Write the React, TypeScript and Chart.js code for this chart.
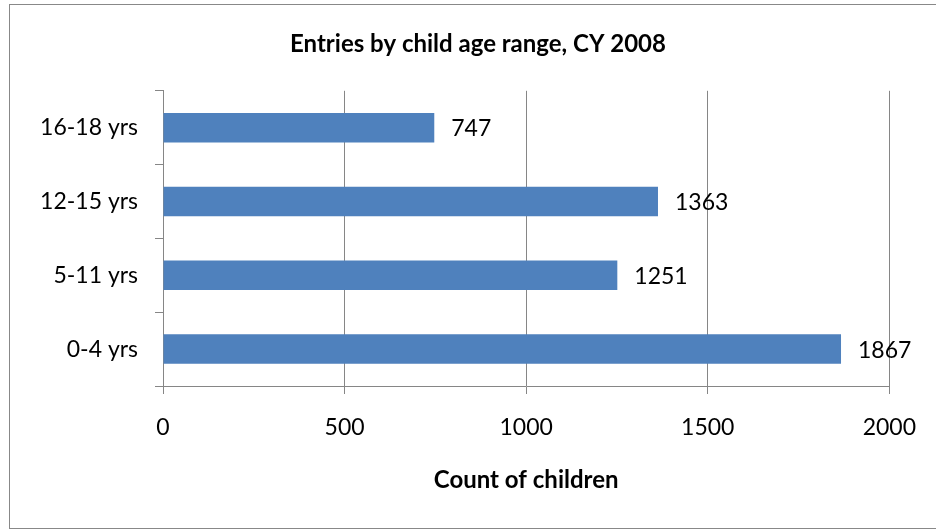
import React, { useEffect, useRef } from "react";
import { Chart, registerables } from "chart.js";

Chart.register(...registerables);

const categories = ["16-18 yrs", "12-15 yrs", "5-11 yrs", "0-4 yrs"];
const counts = [747, 1363, 1251, 1867];
const titleText = "Entries by child age range, CY 2008";
const xAxisTitle = "Count of children";
const xTicks = [0, 500, 1000, 1500, 2000];

const FONT = "Lato, 'Open Sans', sans-serif";

const frame = {
  id: "frame",
  beforeDraw(chart: any) {
    const ctx = chart.ctx;
    ctx.save();
    ctx.fillStyle = "#ffffff";
    ctx.fillRect(0, 0, chart.width, chart.height);
    ctx.strokeStyle = "#888888";
    ctx.lineWidth = 1;
    ctx.strokeRect(9.5, 4.5, chart.width + 10, chart.height - 5);
    ctx.restore();
  },
};

const valueLabels = {
  id: "valueLabels",
  afterDatasetsDraw(chart: any) {
    const ctx = chart.ctx;
    const meta = chart.getDatasetMeta(0);
    ctx.save();
    ctx.font = `23px ${FONT}`;
    ctx.fillStyle = "#000000";
    ctx.textAlign = "left";
    ctx.textBaseline = "middle";
    meta.data.forEach((bar: any, i: number) => {
      ctx.fillText(String(counts[i]), bar.x + 17, bar.y + 1);
    });
    ctx.restore();
  },
};

export default function App() {
  const ref = useRef<HTMLCanvasElement>(null);
  useEffect(() => {
    document.body.style.margin = "0";
    const chart = new Chart(ref.current!, {
      type: "bar",
      data: {
        labels: categories,
        datasets: [
          {
            data: counts,
            backgroundColor: "#4F81BD",
            borderWidth: 0,
            barPercentage: 0.4,
            categoryPercentage: 1,
          },
        ],
      },
      options: {
        indexAxis: "y",
        animation: false,
        responsive: false,
        maintainAspectRatio: false,
        layout: { padding: { left: 20, right: 0, top: 0, bottom: 0 } },
        plugins: {
          legend: { display: false },
          tooltip: { enabled: false },
          title: {
            display: true,
            text: titleText,
            color: "#000000",
            font: { family: FONT, size: 24, weight: "bold" },
            padding: { top: 30, bottom: 32 },
          },
        },
        scales: {
          x: {
            min: 0,
            max: 2000,
            afterBuildTicks: (s: any) => {
              s.ticks = xTicks.map((v) => ({ value: v }));
            },
            afterFit: (s: any) => {
              s.height = 529 - 386;
            },
            ticks: {
              color: "#000000",
              font: { family: FONT, size: 23 },
              padding: 20,
              maxRotation: 0,
              callback: (v: any) => String(v),
            },
            grid: {
              color: "#868686",
              lineWidth: 1,
              tickLength: 8,
            },
            border: { color: "#868686", width: 1 },
            title: {
              display: true,
              text: xAxisTitle,
              color: "#000000",
              font: { family: FONT, size: 24, weight: "bold" },
              padding: { top: 0, bottom: 34 },
            },
          },
          y: {
            afterFit: (s: any) => {
              s.width = 143;
            },
            ticks: {
              color: "#000000",
              font: { family: FONT, size: 23 },
              padding: 17,
            },
            grid: {
              offset: true,
              drawOnChartArea: false,
              color: "#868686",
              tickLength: 8,
            },
            border: { color: "#868686", width: 1 },
          },
          yRight: {
            type: "category",
            position: "right",
            display: true,
            labels: categories,
            afterFit: (s: any) => {
              s.width = 45;
            },
            ticks: { display: false },
            grid: { display: false },
            border: { display: false },
          },
        },
      },
      plugins: [frame, valueLabels],
    } as any);
    return () => chart.destroy();
  }, []);
  return (
    <div style={{ width: 936, height: 529 }}>
      <canvas ref={ref} width={936} height={529} style={{ display: "block" }} />
    </div>
  );
}
